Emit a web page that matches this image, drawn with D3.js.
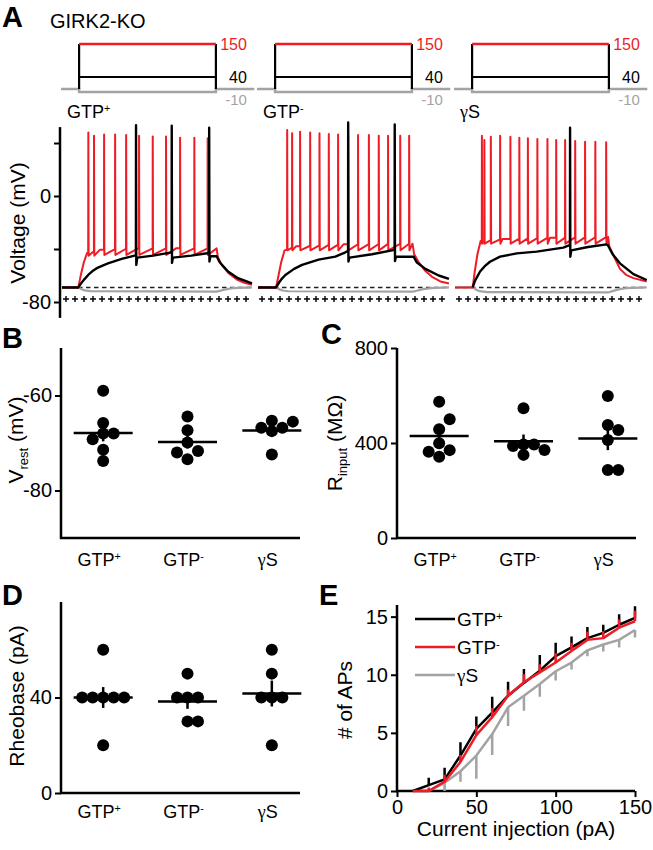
<!DOCTYPE html>
<html>
<head>
<meta charset="utf-8">
<script src="https://cdn.jsdelivr.net/npm/d3@7"></script>
<style>
body { margin: 0; background: #fff; }
text { font-family: "Liberation Sans", Arial, sans-serif; }
</style>
</head>
<body>
<div id="chart"></div>
<script>
// ---- data ----
const conditions = ["GTP+", "GTP-", "γS"];
const stepCurrents = [150, 40, -10];
const restVm = -69;

// panel A: traces as [time ms, mV]; spikes as [time, peak, trough]
const redEnv = [
  [[0,-69],[86,-69],[100,-59],[115,-50],[132,-43],[200,-40.5],[400,-39.5],[600,-39.5],[814,-39.5],[820,-46],[840,-52],[875,-58],[920,-63],[960,-65.5],[1000,-67]],
  [[0,-69],[95,-69],[108,-60],[122,-50],[140,-41],[200,-38],[450,-36.5],[813,-36],[822,-44],[846,-50],[880,-56.5],[916,-61],[960,-64.5],[1005,-66]],
  [[0,-69],[93,-69],[104,-57],[118,-44],[135,-34],[250,-32.5],[500,-31.5],[806,-31],[812,-38],[833,-44.5],[868,-55],[900,-59.5],[939,-62],[1009,-64.5]]
];
const redSpikes = [
  [[138,48,-45],[168,45.5,-45],[221,46.5,-44.5],[279,46.5,-44.5],[337,46,-44.5],[405,45.5,-44.5],[477,45,-44.5],[547,45,-44.5],[621,44,-44.5],[696,44,-44.5],[766,43.5,-44.5]],
  [[153,49.8,-41],[179,47.3,-41],[221,48.5,-41],[274,48,-41],[323,47.3,-41],[372,46.8,-41],[421,46.5,-41],[474,46,-41],[526,46,-41],[583,46,-41],[635,45.5,-41],[684,45.5,-41],[748,45.5,-41],[795,45.5,-41]],
  [[141,45.5,-36],[154,42.3,-36],[188,44.8,-36],[237,45.5,-36],[291,44.8,-36],[338,44,-36],[383,43.5,-36],[433,43,-36],[486,43,-36],[532,42.3,-36],[579,42.3,-36],[632,41.5,-36],[684,41,-36],[738,41,-36],[795,40.5,-36]]
];
const blackEnv = [
  [[0,-69],[86,-69],[100,-66],[115,-63.3],[138,-59.6],[165,-56.2],[189,-54],[242,-50.8],[314,-47.5],[388,-44.8],[396,-46.5],[480,-45],[576,-42.5],[584,-46.5],[680,-45],[773,-43],[781,-45.5],[814,-45.5],[830,-50],[874,-57],[926,-62],[1000,-66]],
  [[0,-69],[95,-69],[110,-65.5],[125,-62.5],[144,-59.6],[190,-55],[232,-52],[319,-48],[407,-45.8],[460,-42.5],[473,-41.5],[481,-46.5],[600,-44],[705,-41],[718,-40.5],[726,-45.8],[819,-45.8],[835,-50],[881,-55],[951,-60],[1005,-62.6]],
  [[93,-69],[105,-64],[132,-57],[160,-52.5],[184,-49.6],[237,-45.8],[325,-43.3],[430,-42],[570,-39],[596,-37.5],[604,-37],[612,-41],[700,-38.5],[798,-36.5],[806,-37.5],[830,-44],[868,-50.8],[939,-59],[1009,-63.4]]
];
const blackSpikes = [
  [[389,53.5,-52],[577,53,-50.5],[774,51.5,-49.5]],
  [[474,55.5,-49.5],[719,54,-49]],
  [[605,51.5,-45.8]]
];
const greyEnv = [
  [[0,-69],[86,-69],[100,-70.2],[120,-71.2],[150,-71.8],[814,-72.2],[830,-71.6],[860,-70.5],[900,-69.6],[1000,-69]],
  [[0,-69],[95,-69],[110,-70.3],[130,-71.3],[160,-71.9],[816,-72.2],[835,-71.5],[870,-70.3],[910,-69.5],[1005,-69]],
  [[0,-69],[93,-69],[110,-70.5],[130,-71.8],[170,-72.5],[806,-72.8],[825,-72],[860,-70.5],[900,-69.6],[1009,-69]]
];
const stepOn = 90, stepOff = 810;

// panel B, C, D: single cells
const vrest = [[-59,-65.8,-68,-68,-69.2,-71.4,-73.8],[-64.4,-67.3,-69.9,-71.7,-72,-73.4],[-65.3,-65.5,-66.8,-66.8,-67.5,-72.4]];
const rinput = [[574,500,458,399,370,363,342],[546,394,394,387,371,350],[598,476,455,413,286,286]];
const rheobase = [[60,40,40,40,40,40,20],[50,40,40,40,30,30],[60,50,40,40,40,20]];

// panel E
const currents = [10,20,30,40,50,60,70,80,90,100,110,120,130,140,150];
const apGTPplus  = [0,0.5,1.0,3.05,5.35,6.75,8.2,9.3,10.35,11.6,12.35,13.15,13.6,14.3,14.9];
const semGTPplus = [0,0.65,1.0,1.15,1.05,1.35,1.2,1.2,1.35,1.15,0.95,0.95,0.7,0.9,1.0];
const apGTPminus  = [0,0,0.8,2.5,4.8,6.35,8.2,9.35,10.2,11.05,12.05,13.0,13.15,14.05,14.6];
const semGTPminus = [0,0.3,0.6,0.6,0.8,0.8,0.5,0.7,0.7,0.8,0.7,0.7,0.6,0.7,0.9];
const apGS  = [0,0,0.7,1.7,3.05,4.9,7.2,8.2,9.2,10.3,11.05,12.1,12.6,13.0,13.85];
const semGS = [0,0.3,0.7,0.9,2.0,1.8,1.6,1.3,1.1,0.8,0.6,0.5,0.6,0.65,0.65];

const RED = "#ee1c25", GREY = "#a3a3a3";

// ---- svg ----
const svg = d3.select("#chart").append("svg")
  .attr("width", 653).attr("height", 850);

function catLabel(sel, c) {
  if (c === "γS") {
    sel.append("tspan").attr("font-family", "Liberation Serif, serif").text("γ");
    sel.append("tspan").text("S");
  } else {
    sel.append("tspan").text("GTP");
    sel.append("tspan").attr("font-size", "0.6em").attr("dy", "-0.55em").text(c.slice(3));
  }
}

function letter(x, y, s) {
  svg.append("text").attr("x", x).attr("y", y).attr("font-size", 29)
    .attr("font-weight", "bold").text(s);
}

function styleAxis(g) {
  g.select(".domain").remove();
  g.selectAll(".tick line").attr("stroke-width", 2);
  g.selectAll(".tick text").attr("font-size", 20).attr("font-family", "Liberation Sans, Arial, sans-serif");
}

// ---- panel A ----
letter(2, 27, "A");
svg.append("text").attr("x", 50).attr("y", 28).attr("font-size", 20).text("GIRK2-KO");

const panelX = [62, 258, 455];
const vScale = d3.scaleLinear().domain([-80, 0]).range([302, 196]);
const iScale = d3.scaleLinear().domain([0, 150]).range([89, 44]);

function tracePoints(env, spikes) {
  const envAt = d3.scaleLinear().domain(env.map(d => d[0])).range(env.map(d => d[1])).clamp(true);
  const pts = env.map(d => [d[0], d[1]]);
  spikes.forEach(s => {
    pts.push([s[0], envAt(s[0])], [s[0] + 0.6, s[1]], [s[0] + 2, s[2]]);
  });
  return pts.sort((a, b) => a[0] - b[0]);
}

conditions.forEach((c, i) => {
  const t = d3.scaleLinear().domain([0, 1000]).range([panelX[i], panelX[i] + 190]);
  const g = svg.append("g");

  // stimulus protocol
  const sl = d3.line().x(d => t(d[0])).y(d => iScale(d[1]));
  g.append("path").attr("d", sl([[-5,0],[stepOn,0],[stepOn,stepCurrents[2]],[stepOff,stepCurrents[2]],[stepOff,0],[1012,0]]))
    .attr("fill", "none").attr("stroke", GREY).attr("stroke-width", 2.5);
  g.append("path").attr("d", sl([[stepOn,0],[stepOn,stepCurrents[0]]]) + sl([[stepOff,0],[stepOff,stepCurrents[0]]]) +
      sl([[stepOn,stepCurrents[1]],[stepOff,stepCurrents[1]]]))
    .attr("fill", "none").attr("stroke", "#000").attr("stroke-width", 2.2);
  g.append("path").attr("d", sl([[stepOn,stepCurrents[0]],[stepOff,stepCurrents[0]]]))
    .attr("fill", "none").attr("stroke", RED).attr("stroke-width", 2.5);
  const lx = t(stepOff) + 31;
  g.append("text").attr("x", lx).attr("y", iScale(150) + 6).attr("text-anchor", "end")
    .attr("font-size", 16).attr("fill", RED).text(stepCurrents[0]);
  g.append("text").attr("x", lx).attr("y", iScale(40) + 6).attr("text-anchor", "end")
    .attr("font-size", 16).attr("fill", "#000").text(stepCurrents[1]);
  g.append("text").attr("x", lx).attr("y", 105).attr("text-anchor", "end")
    .attr("font-size", 15).attr("fill", GREY).text(stepCurrents[2]);

  // condition label
  const lab = g.append("text").attr("x", panelX[i] + 5).attr("y", 118).attr("font-size", 18);
  catLabel(lab, c);

  // resting level and marker row
  g.append("line").attr("x1", t(0)).attr("x2", t(1000)).attr("y1", vScale(restVm)).attr("y2", vScale(restVm))
    .attr("stroke", "#222").attr("stroke-width", 1.5).attr("stroke-dasharray", "4.5,3.5");
  g.append("path")
    .attr("d", d3.range(21).map(k => {
      const x = panelX[i] + 4 + k * 9, y = 299;
      return `M${x - 3},${y}H${x + 3}M${x},${y - 3}V${y + 3}`;
    }).join(""))
    .attr("stroke", "#000").attr("stroke-width", 1.4);

  const vl = d3.line().x(d => t(d[0])).y(d => vScale(d[1]));
  g.append("path").attr("d", vl(greyEnv[i])).attr("fill", "none").attr("stroke", GREY).attr("stroke-width", 2.2);
  g.append("path").attr("d", vl(tracePoints(redEnv[i], redSpikes[i]))).attr("fill", "none")
    .attr("stroke", RED).attr("stroke-width", 2).attr("stroke-linejoin", "round");
  g.append("path").attr("d", vl(tracePoints(blackEnv[i], blackSpikes[i]))).attr("fill", "none")
    .attr("stroke", "#000").attr("stroke-width", 2.4).attr("stroke-linejoin", "round");
});

// voltage axis
const va = svg.append("g").attr("transform", "translate(60,0)")
  .call(d3.axisLeft(vScale).tickValues([40, 0, -40, -80]).tickSize(6).tickPadding(3)
    .tickFormat(d => (d === 0 || d === -80) ? String(d) : ""));
styleAxis(va);
va.append("line").attr("y1", vScale(52)).attr("y2", vScale(-92)).attr("stroke", "#000").attr("stroke-width", 2.5);
svg.append("text").attr("transform", "translate(25,223) rotate(-90)").attr("text-anchor", "middle")
  .attr("font-size", 21).text("Voltage (mV)");

// ---- scatter panels ----
function swarm(values, y, cx, step) {
  const mean = d3.mean(values);
  const items = values.map(v => ({ v, y: y(v) }))
    .sort((a, b) => Math.abs(a.v - mean) - Math.abs(b.v - mean));
  const placed = [];
  const offs = [0, 1, -1, 2, -2, 3, -3, 4, -4];
  items.forEach(d => {
    for (const o of offs) {
      const x = cx + o * step;
      if (placed.every(p => Math.hypot(p.x - x, p.y - d.y) >= step * 0.98)) { d.x = x; break; }
    }
    placed.push(d);
  });
  return placed;
}

function scatterPanel(opt) {
  const g = svg.append("g");
  const x = d3.scalePoint().domain(conditions).range([opt.x0, opt.x0 + 253]).padding(0.5);
  const y = d3.scaleLinear().domain(opt.domain).range([opt.yBottom, opt.yTop]);
  const ya = g.append("g").attr("transform", `translate(${opt.x0},0)`)
    .call(d3.axisLeft(y).tickValues(opt.ticks).tickSize(6).tickPadding(3).tickFormat(d => String(d)));
  styleAxis(ya);
  g.append("path").attr("d", `M${opt.x0},${opt.yTop}V${opt.yBottom}H${opt.x0 + 239}`)
    .attr("fill", "none").attr("stroke", "#000").attr("stroke-width", 2.5);

  conditions.forEach((c, i) => {
    const vals = opt.values[i];
    const cx = x(c);
    swarm(vals, y, cx, 10.5).forEach(d => {
      g.append("circle").attr("cx", d.x).attr("cy", d.y).attr("r", 6).attr("fill", "#000");
    });
    const m = d3.mean(vals), sem = d3.deviation(vals) / Math.sqrt(vals.length);
    g.append("line").attr("x1", cx - 29.5).attr("x2", cx + 29.5).attr("y1", y(m)).attr("y2", y(m))
      .attr("stroke", "#000").attr("stroke-width", 2.5);
    g.append("line").attr("x1", cx).attr("x2", cx).attr("y1", y(m - sem)).attr("y2", y(m + sem))
      .attr("stroke", "#000").attr("stroke-width", 2.5);
    const t = g.append("text").attr("x", cx - 4).attr("y", opt.labelY).attr("text-anchor", "middle").attr("font-size", 18);
    catLabel(t, c);
  });

  const yl = g.append("text").attr("transform", `translate(${opt.titleX},${opt.titleY}) rotate(-90)`)
    .attr("text-anchor", "middle").attr("font-size", 21);
  yl.append("tspan").text(opt.title[0]);
  if (opt.title[1]) {
    yl.append("tspan").attr("font-size", "0.62em").attr("dy", "0.35em").text(opt.title[1]);
    yl.append("tspan").attr("dy", "-0.22em").text(opt.title[2]);
  }
}

letter(2, 348, "B");
scatterPanel({ x0: 61, domain: [-90, -50], yBottom: 538, yTop: 348, ticks: [-60, -80],
  values: vrest, labelY: 566, title: ["V", "rest", " (mV)"], titleX: 23, titleY: 440 });

letter(321, 344, "C");
scatterPanel({ x0: 397, domain: [0, 800], yBottom: 538, yTop: 348, ticks: [0, 400, 800],
  values: rinput, labelY: 566, title: ["R", "input", " (MΩ)"], titleX: 342, titleY: 443 });

letter(2, 605, "D");
scatterPanel({ x0: 61, domain: [0, 80], yBottom: 793, yTop: 602, ticks: [0, 40],
  values: rheobase, labelY: 818, title: ["Rheobase (pA)"], titleX: 24, titleY: 696 });

// ---- panel E ----
letter(319, 605, "E");
{
  const g = svg.append("g");
  const x = d3.scaleLinear().domain([0, 150]).range([397, 635]);
  const y = d3.scaleLinear().domain([0, 16]).range([791, 605]);
  const xa = g.append("g").attr("transform", "translate(0,791)")
    .call(d3.axisBottom(x).tickValues([0, 50, 100, 150]).tickSize(6).tickPadding(3).tickFormat(d => String(d)));
  styleAxis(xa);
  const ya = g.append("g").attr("transform", "translate(397,0)")
    .call(d3.axisLeft(y).tickValues([0, 5, 10, 15]).tickSize(6).tickPadding(3).tickFormat(d => String(d)));
  styleAxis(ya);
  g.append("path").attr("d", "M397,605V791H635").attr("fill", "none").attr("stroke", "#000").attr("stroke-width", 2.5);

  const series = [
    { name: "γS", vals: apGS, sem: semGS, color: GREY, dir: -1 },
    { name: "GTP+", vals: apGTPplus, sem: semGTPplus, color: "#000", dir: 1 },
    { name: "GTP-", vals: apGTPminus, sem: semGTPminus, color: RED, dir: 1 }
  ];
  const line = d3.line().x((d, k) => x(currents[k])).y(d => y(d));
  series.forEach(s => {
    g.append("path")
      .attr("d", s.vals.map((v, k) => s.sem[k] > 0 ?
        `M${x(currents[k])},${y(v)}V${y(Math.max(0, v + s.dir * s.sem[k]))}` : "").join(""))
      .attr("stroke", s.color).attr("stroke-width", 2.5);
    g.append("path").attr("d", line(s.vals)).attr("fill", "none")
      .attr("stroke", s.color).attr("stroke-width", 2.5).attr("stroke-linejoin", "round");
  });

  const leg = [["GTP+", "#000", 619], ["GTP-", RED, 647], ["γS", GREY, 675]];
  leg.forEach(([n, col, ly]) => {
    g.append("line").attr("x1", 415).attr("x2", 455).attr("y1", ly).attr("y2", ly)
      .attr("stroke", col).attr("stroke-width", 2.5);
    const t = g.append("text").attr("x", 457).attr("y", ly + 7).attr("font-size", 19);
    catLabel(t, n);
  });

  svg.append("text").attr("x", 516).attr("y", 836).attr("text-anchor", "middle").attr("font-size", 21)
    .text("Current injection (pA)");
  svg.append("text").attr("transform", "translate(352,700) rotate(-90)").attr("text-anchor", "middle")
    .attr("font-size", 21).text("# of APs");
}
</script>
</body>
</html>
